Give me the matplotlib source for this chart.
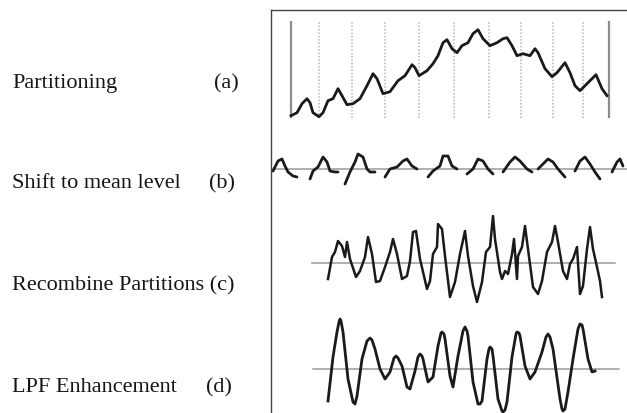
import numpy as np
import matplotlib
matplotlib.use('Agg')
import matplotlib.pyplot as plt
from matplotlib.lines import Line2D

plt.rcParams['font.family'] = ['Liberation Serif', 'DejaVu Serif']

W, H = 627, 414

# ---- data ----
labels = ['Partitioning', 'Shift to mean level', 'Recombine Partitions', 'LPF Enhancement']
tags = ['(a)', '(b)', '(c)', '(d)']

# (a) raw signal
a_t = [0, 6, 11, 16, 19, 22, 28, 32, 37, 42, 47, 51, 56, 62, 69, 76, 82, 86, 92, 99,
       107, 114, 121, 124, 128, 136, 142, 147, 152, 156, 161, 166, 171, 177, 182, 187,
       192, 199, 206, 212, 216, 221, 226, 232, 239, 244, 247, 254, 261, 266, 274, 279,
       284, 289, 297, 305, 311, 316]
a_v = [0, 3, 12, 17, 13, 3, -1, 3, 15, 17, 27, 20, 11, 12, 17, 30, 42, 37, 22, 24,
       35, 40, 51, 48, 40, 45, 52, 60, 73, 76, 67, 63, 70, 73, 82, 86,
       77, 70, 73, 77, 78, 70, 60, 62, 60, 67, 63, 47, 39, 43, 53, 43,
       30, 25, 33, 41, 27, 20]
a_edges = [0, 318]
a_parts = [28, 61, 94, 128, 163, 198, 230, 262, 292]

# (b) partitions shifted to the mean level (nan = gap between partitions)
nan = np.nan
b_t = [3, 8, 12, 15, 18, 23, 27, nan,
       40, 43, 48, 53, 57, 60, 65, 68, nan,
       75, 80, 85, 88, 93, 97, 100, 105, nan,
       115, 120, 127, 133, 137, 142, 147, nan,
       158, 163, 170, 173, 178, 182, 187, nan,
       197, 203, 208, 213, 218, 223, nan,
       233, 240, 245, 250, 257, 262, nan,
       268, 273, 278, 283, 288, 295, nan,
       305, 310, 315, 320, 325, 330, nan,
       342, 347, 350, 353]
b_v = [-2, 8, 10, 3, -3, -7, -8, nan,
       -10, -2, 2, 12, 7, -2, -3, -3, nan,
       -15, -3, 7, 15, 12, 0, -3, -3, nan,
       -8, 0, 2, 8, 10, 3, 0, nan,
       -8, -2, 3, 13, 13, 3, 0, nan,
       -5, 0, 10, 8, 0, -5, nan,
       -3, 7, 12, 8, 0, -3, nan,
       0, 5, 10, 7, 0, -8, nan,
       -2, 8, 12, 5, -3, -10, nan,
       -3, 7, 10, 3]
b_mean = (1, 357)

# (c) recombined partitions
c_t = [58, 62, 65, 68, 72, 75, 77, 80, 86, 90, 95, 98, 102, 106, 110, 115, 120, 123,
       127, 132, 137, 140, 143, 146, 150, 157, 160, 163, 167, 168, 172, 175, 180, 185,
       190, 195, 198, 203, 207, 212, 216, 220, 223, 225, 230, 232, 235, 238, 242, 244,
       247, 248, 252, 255, 258, 263, 268, 272, 277, 282, 285, 288, 293, 297, 300, 303,
       307, 310, 313, 317, 320, 323, 327, 330, 332]
c_v = [-16, 6, 11, 22, 17, 6, 21, 4, -14, -8, 6, 26, 9, -19, -18, -4, 11, 24,
       9, -16, -13, 2, 31, 32, 4, -26, -18, 9, 16, 39, 34, 7, -34, -19,
       9, 32, 7, -23, -39, -19, 11, 16, 47, 24, -9, -16, -8, -11, 9, 24,
       -16, 7, 16, 37, 14, -24, -31, -18, 11, 21, 37, 21, -8, -16, -1, 4,
       16, -31, -23, 14, 36, 14, -4, -18, -34]
c_mean = (42, 345)

# (d) after low-pass filtering
d_t = [58, 63, 67, 69, 70, 71, 73, 78, 83, 85, 87, 92, 97, 100, 102, 105, 110, 115, 120,
       124, 126, 128, 132, 137, 140, 145, 148, 150, 152, 153, 158, 163, 168, 171, 172,
       174, 175, 180, 183, 188, 193, 195, 197, 198, 203, 208, 210, 212, 217, 219, 220,
       222, 223, 228, 232, 233, 235, 237, 242, 246, 247, 249, 250, 255, 260, 265, 272,
       276, 278, 280, 283, 290, 292, 293, 295, 298, 303, 308, 310, 312, 313, 318, 322, 325]
d_v = [-32, 12, 37, 47, 50, 48, 37, -10, -33, -35, -27, 10, 28, 31, 29, 20, 0, -10, -3,
       11, 13, 11, 3, -18, -20, -2, 12, 15, 13, 10, -13, -8, 23, 36, 37,
       35, 30, -7, -18, 13, 38, 42, 38, 33, -13, -35, -35, -32, 10, 20, 22,
       20, 13, -30, -42, -43, -41, -33, 12, 35, 37, 36, 33, 3, -10, -3, 17,
       32, 35, 32, 20, -30, -40, -42, -40, -23, 10, 40, 45, 44, 40, 10, -3, -2]
d_mean = (43, 349)

sig_color = '#1a1a1a'
ref_color = '#9a9a9a'

fig = plt.figure(figsize=(W / 100, H / 100), dpi=100)


def panel(ox, oy, px0, px1, py0, py1):
    # axes placed in pixel box, data origin at pixel (ox, oy), 1 unit = 1 px
    ax = fig.add_axes([px0 / W, 1 - py1 / H, (px1 - px0) / W, (py1 - py0) / H])
    ax.set_xlim(px0 - ox, px1 - ox)
    ax.set_ylim(oy - py1, oy - py0)
    ax.axis('off')
    return ax


# (a)
ax = panel(291, 116.7, 280, 620, 15, 125)
for x in a_edges:
    ax.plot([x, x], [-2.5, 95], color='#8c8c8c', lw=1.6, solid_capstyle='butt')
for x in a_parts:
    ax.plot([x, x], [-2.5, 95], color='#b5b5b5', lw=1.1, ls=(0, (1, 1.2)))
ax.plot(a_t, a_v, color=sig_color, lw=2.0, solid_joinstyle='round')

# (b)
ax = panel(270, 170, 271, 627, 140, 200)
ax.plot(b_mean, [0, 0], color=ref_color, lw=1.1)
ax.plot(b_t, b_v, color=sig_color, lw=2.0, solid_joinstyle='round', solid_capstyle='round')

# (c)
ax = panel(270, 264, 280, 627, 210, 320)
ax.plot(c_mean, [0, 0], color=ref_color, lw=1.1)
ax.plot(c_t, c_v, color=sig_color, lw=1.8, solid_joinstyle='round')

# (d)
ax = panel(270, 370, 280, 627, 318, 414)
ax.plot(d_mean, [0, 0], color=ref_color, lw=1.1)
ax.plot(d_t, d_v, color=sig_color, lw=2.0, solid_joinstyle='round')

# frame
fig.add_artist(Line2D([271 / W, 271 / W], [0, 1 - 10.7 / H], color='#444444', lw=1.0))
fig.add_artist(Line2D([271 / W, 1], [1 - 10.7 / H, 1 - 10.7 / H], color='#444444', lw=1.0))

# labels
base_y = [88, 188, 290, 392]
tag_x = [214, 209, 212, 206]
for i in range(4):
    if i == 2:
        fig.text(12 / W, 1 - base_y[i] / H, labels[i] + ' ' + tags[i], fontsize=16,
                 va='baseline', ha='left', color='#151515')
    else:
        fig.text(12 / W, 1 - base_y[i] / H, labels[i], fontsize=16,
                 va='baseline', ha='left', color='#151515')
        fig.text(tag_x[i] / W, 1 - base_y[i] / H, tags[i], fontsize=16,
                 va='baseline', ha='left', color='#151515')

fig.savefig('out.png', dpi=100)
